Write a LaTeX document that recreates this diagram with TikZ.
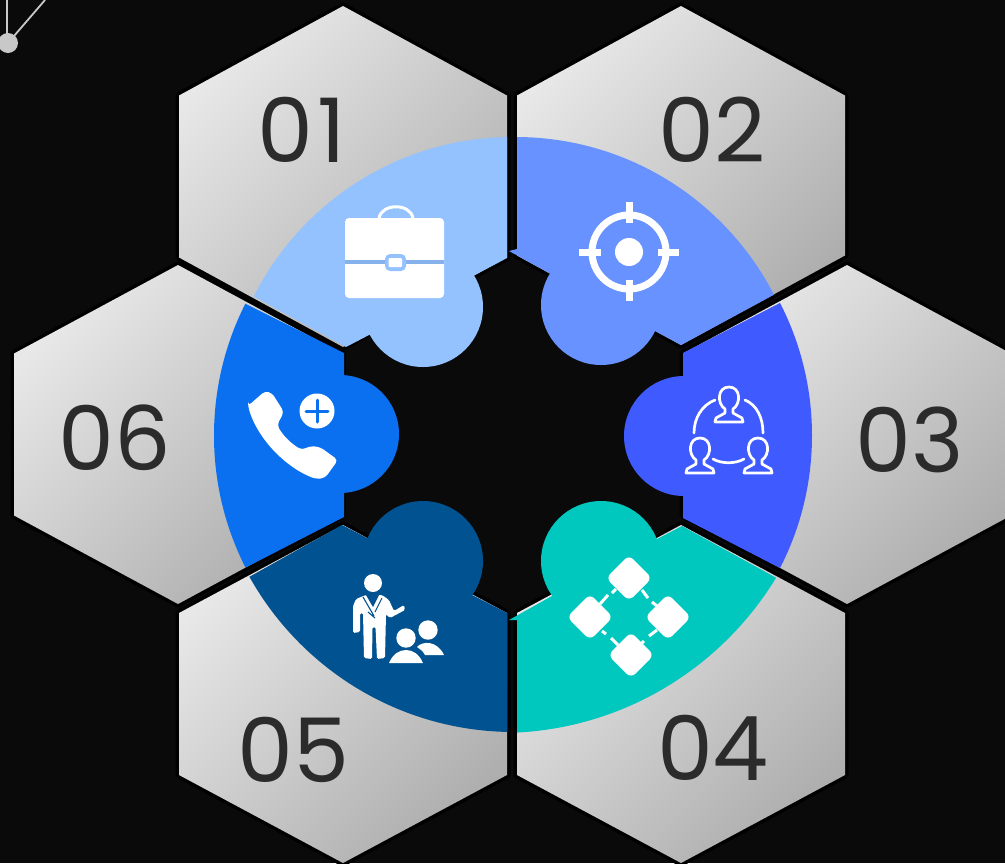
\documentclass[tikz,border=0pt]{standalone}
\usepackage{fontspec}
\setmainfont{Poppins}
\definecolor{bgc}{HTML}{0A0A0A}
\definecolor{hexl}{HTML}{E8E8E8}
\definecolor{hexm}{HTML}{DADADA}
\definecolor{hexd}{HTML}{AEAEAE}
\definecolor{numc}{HTML}{2B2B2B}
\definecolor{sa}{HTML}{94C2FF}
\definecolor{sadk}{HTML}{86B2EC}
\definecolor{sb}{HTML}{6792FF}
\definecolor{sc}{HTML}{3F5BFF}
\definecolor{sd}{HTML}{00C8BE}
\definecolor{se}{HTML}{005390}
\definecolor{sf}{HTML}{0A70F0}
\definecolor{dec}{HTML}{C8C8C8}
\tikzset{
  hexface/.style={top color=hexl,middle color=hexm,bottom color=hexd,shading angle=45},
  hexedge/.style={draw=black,line width=7pt,line join=round},
  numlabel/.style={font=\fontsize{89pt}{89pt}\selectfont,text=numc,inner sep=0pt},
  iconline/.style={draw=white,line width=2.7pt,line cap=round,line join=round}
}
% centre x, centre y, half height, half side
\newcommand{\hexat}[4]{%
  \path[hexedge] (#1,#2-#3)--(#1+164,#2-#4)--(#1+164,#2+#4)--(#1,#2+#3)--(#1-164,#2+#4)--(#1-164,#2-#4)--cycle;
  \shade[hexface] (#1,#2-#3)--(#1+164,#2-#4)--(#1+164,#2+#4)--(#1,#2+#3)--(#1-164,#2+#4)--(#1-164,#2-#4)--cycle;}
% colour, clip path, disc centre, disc radius, lobe centre, lobe radius
\newcommand{\sector}[6]{%
  \begin{scope}\clip #2;\fill[#1] (#3) circle[radius=#4];\end{scope}
  \fill[#1] (#5) circle[radius=#6];}
\newcommand{\persona}[3]{%
  \begin{scope}[shift={(#1,#2)},scale=#3]
  \draw[iconline] (-14,0)--(14,0)--(13,-4)--(4,-9)--(4,-13) .. controls (12,-18) and (12,-35) .. (0,-35) .. controls (-12,-35) and (-12,-18) .. (-4,-13) -- (-4,-9)--(-13,-4)--cycle;
  \end{scope}}
\newcommand{\diamondat}[2]{\fill[white,rounded corners=6pt] (#1,#2-23)--(#1+23,#2)--(#1,#2+23)--(#1-23,#2)--cycle;}
\begin{document}
\begin{tikzpicture}[x=1pt,y=-1pt]
\useasboundingbox (0,0) rectangle (1005,863);
\fill[bgc] (0,0) rectangle (1005,863);
% corner decoration
\draw[dec,line width=1.8pt] (7,0)--(7,43);
\draw[dec,line width=1.8pt] (45,0)--(8,43);
\fill[dec] (8,43) circle[radius=10];
% hexagons
\hexat{343}{176.5}{170.5}{81}
\hexat{681}{175.5}{169.5}{80}
\hexat{847}{434.5}{169.5}{81}
\hexat{681}{694}{169}{81}
\hexat{343}{694}{169}{81}
\hexat{178}{434.5}{169.5}{81}
% sectors
\sector{sa}{(507,100)--(507,258)--(475,275)--(371,334)--(346,347)--(200,267)--(200,100)--cycle}{512.5,426.5}{289.5}{423,307}{60}
\sector{sb}{(517,100)--(517,249)--(509,251)--(549,273)--(655,331)--(681,345)--(840,259)--(840,100)--cycle}{515.4,427.7}{290.7}{601,305}{60}
\sector{sc}{(683,353)--(840,272)--(840,599)--(683,518)--cycle}{522,435.5}{290}{684,436}{60}
\sector{sd}{(517,760)--(517,620)--(509,620)--(552,596)--(659,538)--(682,526)--(840,613)--(840,760)--cycle}{500,410}{323}{601,561}{60}
\sector{se}{(507,760)--(507,613)--(472,595)--(365,537)--(342,525)--(190,610)--(190,760)--cycle}{514,429}{303}{423,561}{60}
\sector{sf}{(344,353)--(190,276)--(190,596)--(344,517)--cycle}{506,435.5}{292}{340,434}{59}
% numbers
\node[numlabel] (n1) at (302,130) {0\kern4pt 1};
\node[numlabel] (n2) at (712,130) {02};
\node[numlabel] (n3) at (910,440) {03};
\node[numlabel] (n4) at (713,748) {04};
\node[numlabel] (n5) at (293,750) {05};
\node[numlabel] (n6) at (115,438) {06};
% briefcase
\draw[white,line width=3pt] (379,218) .. controls (382,203) and (410,203) .. (413,218);
\fill[white,rounded corners=4pt] (345,218) rectangle (444,298);
\draw[sadk,line width=3.4pt] (345,262)--(444,262);
\fill[sa,rounded corners=5pt] (385,254) rectangle (406,271);
\fill[white,rounded corners=1pt] (388.5,258) rectangle (402,267);
% target
\draw[white,line width=7pt] (629,252) circle[radius=37];
\fill[white] (629,252) circle[radius=14];
\draw[white,line width=7pt] (629,202)--(629,223) (629,280)--(629,301) (579,252)--(601,252) (658,252)--(679,252);
% group
\persona{729}{422}{1}
\persona{700}{473}{1}
\persona{758}{473}{1}
\draw[iconline] (715,400) .. controls (702,405) and (694,418) .. (694,433);
\draw[iconline] (745,400) .. controls (757,405) and (763,418) .. (763,433);
\draw[iconline] (713,459) .. controls (722,464) and (735,464) .. (744,459);
% network
\draw[white,line width=3pt] (608,595)--(600,604) (612,593)--(616,589) (642,590)--(648,598) (652,602)--(657,606)
 (602,631)--(606,634) (611,638)--(618,645) (657,630)--(649,636) (644,641)--(641,644);
\diamondat{629}{578}
\diamondat{668}{617}
\diamondat{590}{617}
\diamondat{631}{655}
% teacher
\fill[white] (373,583) circle[radius=9];
\fill[white,rounded corners=1.5pt] (353,606)--(356,599)--(366,595)--(382,595)--(389,600)--(394,611)--(404,605)--(405,610)--(390,618)--(386,614)--(385,658)--(377,659)--(375.5,627)--(372.5,627)--(372,659)--(364,658)--(363,613)--(360,613)--(360,632)--(353,633)--cycle;
\fill[se] (366,595)--(379,595)--(373,607)--cycle;
\draw[se,line width=1.1pt] (363,597)--(374,616) (382,598)--(375,612) (368,612)--(375,618);
\fill[white] (406,638) circle[radius=9.7];
\fill[white] (428,630) circle[radius=9.7];
\fill[white] (389,663) .. controls (393,654) and (399,650) .. (406,650) .. controls (413,650) and (419,654) .. (423,663)--cycle;
\fill[white] (417,647) .. controls (422,641) and (437,640) .. (444,655)--(425,655) .. controls (423,651) and (420,649) .. (417,647)--cycle;
% phone
\fill[white,rounded corners=4pt] (248,406)--(265,391)--(272,393)--(284,412)--(277,425) .. controls (284,437) and (292,444) .. (302,450)--(310,446)--(320,447)--(338,460)--(325,478)--(316,479) .. controls (287,468) and (258,440) .. (248,406)--cycle;
\fill[white] (317,411) circle[radius=17.5];
\draw[sf,line width=3pt,line cap=round] (306,411)--(328,411) (317,400)--(317,422);
\end{tikzpicture}
\end{document}
